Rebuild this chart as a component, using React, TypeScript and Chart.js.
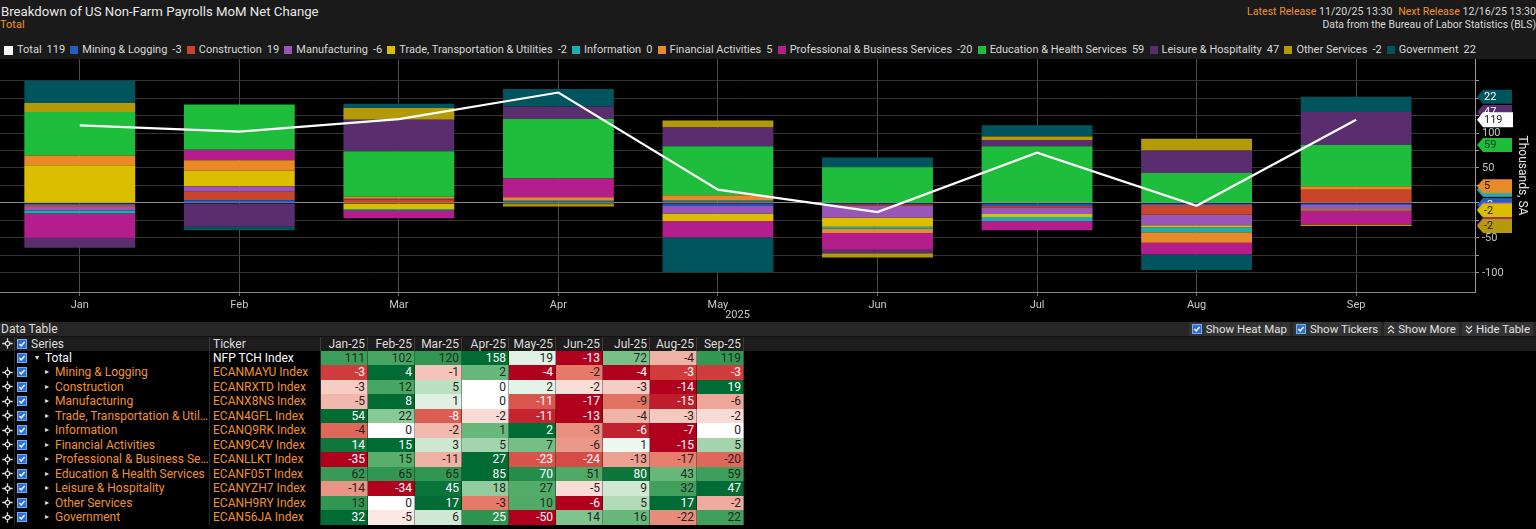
import React, { useEffect, useRef } from 'react';
import { Chart, registerables } from 'chart.js';
Chart.register(...registerables);
Chart.defaults.font.family = 'Roboto, sans-serif';

// ---------- text ----------
const chartTitle = 'Breakdown of US Non-Farm Payrolls MoM Net Change';
const chartSubtitle = 'Total';
const latestRelease = '11/20/25 13:30';
const nextRelease = '12/16/25 13:30';
const sourceNote = 'Data from the Bureau of Labor Statistics (BLS)';
const axisTitle = 'Thousands, SA';
const yearLabel = '2025';
const buttons = ['Show Heat Map', 'Show Tickers', 'Show More', 'Hide Table'];

// ---------- data ----------
const months = ['Jan', 'Feb', 'Mar', 'Apr', 'May', 'Jun', 'Jul', 'Aug', 'Sep'];
const monthColumns = ['Jan-25', 'Feb-25', 'Mar-25', 'Apr-25', 'May-25', 'Jun-25', 'Jul-25', 'Aug-25', 'Sep-25'];

const totalName = 'Total';
const totalTicker = 'NFP TCH Index';
const totalValues = [111, 102, 120, 158, 19, -13, 72, -4, 119];

const miningValues = [-3, 4, -1, 2, -4, -2, -4, -3, -3];
const constructionValues = [-3, 12, 5, 0, 2, -2, -3, -14, 19];
const manufacturingValues = [-5, 8, 1, 0, -11, -17, -9, -15, -6];
const tradeValues = [54, 22, -8, -2, -11, -13, -4, -3, -2];
const informationValues = [-4, 0, -2, 1, 2, -3, -6, -7, 0];
const financialValues = [14, 15, 3, 5, 7, -6, 1, -15, 5];
const professionalValues = [-35, 15, -11, 27, -23, -24, -13, -17, -20];
const educationValues = [62, 65, 65, 85, 70, 51, 80, 43, 59];
const leisureValues = [-14, -34, 45, 18, 27, -5, 9, 32, 47];
const otherValues = [13, 0, 17, -3, 10, -6, 5, 17, -2];
const governmentValues = [32, -5, 6, 25, -50, 14, 16, -22, 22];

const seriesNames = [
  'Mining & Logging', 'Construction', 'Manufacturing', 'Trade, Transportation & Utilities',
  'Information', 'Financial Activities', 'Professional & Business Services',
  'Education & Health Services', 'Leisure & Hospitality', 'Other Services', 'Government',
];
const seriesTickers = [
  'ECANMAYU Index', 'ECANRXTD Index', 'ECANX8NS Index', 'ECAN4GFL Index', 'ECANQ9RK Index',
  'ECAN9C4V Index', 'ECANLLKT Index', 'ECANF05T Index', 'ECANYZH7 Index', 'ECANH9RY Index', 'ECAN56JA Index',
];
const seriesValues = [
  miningValues, constructionValues, manufacturingValues, tradeValues, informationValues,
  financialValues, professionalValues, educationValues, leisureValues, otherValues, governmentValues,
];

// ---------- styles ----------
const seriesColors = [
  '#1d5fc4', '#c8442a', '#9a55b8', '#dcbe00', '#18b0b4', '#e88a28',
  '#b41e8c', '#1ebe3c', '#5a2e6e', '#b49a0a', '#00545e',
];
const tagTextColors = [
  '#ffffff', '#ffffff', '#ffffff', '#1a1a1a', '#1a1a1a', '#1a1a1a',
  '#ffffff', '#0b3d14', '#ffffff', '#1a1a1a', '#ffffff',
];
const ORANGE = '#f0922e';
const TEXT = '#d8d8d8';

const greenStops: [number, number[]][] = [[0, [255, 255, 255]], [0.25, [192, 226, 198]], [0.55, [88, 176, 108]], [0.8, [42, 146, 78]], [1, [0, 107, 51]]];
const redStops: [number, number[]][] = [[0, [255, 255, 255]], [0.25, [244, 196, 186]], [0.5, [228, 122, 104]], [0.75, [208, 60, 60]], [1, [176, 0, 30]]];

function interp(stops: [number, number[]][], t: number) {
  for (let i = 1; i < stops.length; i++) {
    if (t <= stops[i][0]) {
      const [t0, c0] = stops[i - 1];
      const [t1, c1] = stops[i];
      const f = (t - t0) / (t1 - t0);
      const c = c0.map((v, k) => Math.round(v + (c1[k] - v) * f));
      return `rgb(${c[0]},${c[1]},${c[2]})`;
    }
  }
  const c = stops[stops.length - 1][1];
  return `rgb(${c[0]},${c[1]},${c[2]})`;
}

function heat(v: number, row: number[]) {
  const maxPos = Math.max(...row, 0);
  const minNeg = Math.min(...row, 0);
  if (v > 0) {
    const t = v / maxPos;
    return { bg: interp(greenStops, t), fg: t >= 0.77 ? '#ffffff' : '#1e2a1e' };
  }
  if (v < 0) {
    const t = v / minNeg;
    return { bg: interp(redStops, t), fg: t >= 0.6 ? '#ffffff' : '#2a1e1e' };
  }
  return { bg: '#ffffff', fg: '#222222' };
}

const COL_ICON = 15;
const COL_CHECK = 14;
const COL_SERIES = 181;
const COL_TICKER = 111;
const COL_MONTH = 47;
const ROW_H = 14.5;

function CheckBox() {
  return (
    <svg width="10" height="10" viewBox="0 0 10 10" style={{ display: 'block' }}>
      <rect x="0.5" y="0.5" width="9" height="9" fill="#2a6fd4" stroke="#7aaaf0" strokeWidth="1" />
      <polyline points="2.4,5 4.2,6.9 7.6,3" fill="none" stroke="#ffffff" strokeWidth="1.4" />
    </svg>
  );
}

function CrossIcon() {
  return (
    <svg width="11" height="11" viewBox="0 0 11 11" style={{ display: 'block' }}>
      <circle cx="5.5" cy="5.5" r="2.2" fill="none" stroke="#e0e0e0" strokeWidth="1.2" />
      <path d="M5.5 0.3V3.2M5.5 7.8V10.7M0.3 5.5H3.2M7.8 5.5H10.7" stroke="#e0e0e0" strokeWidth="1.3" />
    </svg>
  );
}

function Chevrons({ up }: { up: boolean }) {
  const p1 = up ? '1,5 4,2 7,5' : '1,2 4,5 7,2';
  const p2 = up ? '1,9 4,6 7,9' : '1,6 4,9 7,6';
  return (
    <svg width="8" height="11" viewBox="0 0 8 11" style={{ display: 'block', marginRight: 3 }}>
      <polyline points={p1} fill="none" stroke="#dddddd" strokeWidth="1.2" />
      <polyline points={p2} fill="none" stroke="#dddddd" strokeWidth="1.2" />
    </svg>
  );
}

function cellBase(width: number): React.CSSProperties {
  return { width, flex: `0 0 ${width}px`, height: '100%', boxSizing: 'border-box', overflow: 'hidden', whiteSpace: 'nowrap' };
}

function DataRow({ name, ticker, values, isTotal }: { name: string; ticker: string; values: number[]; isTotal: boolean }) {
  return (
    <div style={{ display: 'flex', height: ROW_H, lineHeight: `${ROW_H}px`, fontSize: 12 }}>
      <div style={{ ...cellBase(COL_ICON), display: 'flex', alignItems: 'center', justifyContent: 'center', borderRight: '1px solid #2a2a2a' }}>
        {isTotal ? null : <CrossIcon />}
      </div>
      <div style={{ ...cellBase(COL_CHECK), display: 'flex', alignItems: 'center', paddingLeft: 2 }}>
        <CheckBox />
      </div>
      <div style={{ ...cellBase(COL_SERIES), paddingLeft: isTotal ? 6 : 16, color: isTotal ? '#ffffff' : ORANGE, textOverflow: 'ellipsis', borderRight: '1px solid #2a2a2a' }}>
        <span style={{ color: '#dddddd', fontSize: 8, display: 'inline-block', width: 10, verticalAlign: 'top' }}>{isTotal ? '\u25BE' : '\u25B8'}</span>
        {name}
      </div>
      <div style={{ ...cellBase(COL_TICKER), paddingLeft: 3, color: isTotal ? '#ffffff' : ORANGE, borderRight: '1px solid #2a2a2a' }}>{ticker}</div>
      {values.map((v, i) => {
        const h = heat(v, values);
        return (
          <div key={i} style={{ ...cellBase(COL_MONTH), background: h.bg, color: h.fg, textAlign: 'right', paddingRight: 2, borderRight: '1px solid rgba(0,0,0,0.35)' }}>
            {v}
          </div>
        );
      })}
    </div>
  );
}

export default function App() {
  const ref = useRef<HTMLCanvasElement>(null);

  useEffect(() => {
    const last = months.length - 1;
    const fmt = (v: number) => String(v);
    const tagPlugin = {
      id: 'lastValueTags',
      afterDraw(chart: any) {
        const ctx = chart.ctx as CanvasRenderingContext2D;
        const x0 = chart.chartArea.right;
        const yScale = chart.scales.y;
        const drawTag = (y: number, text: string, bg: string, fg: string, wide: boolean) => {
          const h = wide ? 15 : 14;
          const right = x0 + (wide ? 38 : 37);
          ctx.save();
          ctx.beginPath();
          ctx.moveTo(x0 + 2, y);
          ctx.lineTo(x0 + 8, y - h / 2);
          ctx.lineTo(right, y - h / 2);
          ctx.lineTo(right, y + h / 2);
          ctx.lineTo(x0 + 8, y + h / 2);
          ctx.closePath();
          ctx.fillStyle = bg;
          ctx.fill();
          ctx.fillStyle = fg;
          ctx.font = '11px Roboto, sans-serif';
          ctx.textAlign = 'left';
          ctx.textBaseline = 'middle';
          ctx.fillText(text, x0 + 9, y + 0.5);
          ctx.restore();
        };
        let pos = 0;
        let neg = 0;
        seriesNames.forEach((_, k) => {
          const v = seriesValues[k][last];
          let end;
          if (v >= 0) { pos += v; end = pos; } else { neg += v; end = neg; }
          drawTag(yScale.getPixelForValue(end), fmt(v), seriesColors[k], tagTextColors[k], false);
        });
        const tot = chart.getDatasetMeta(0).data[last];
        if (tot) drawTag(tot.y, fmt(totalValues[last]), '#ffffff', '#222222', true);
      },
    };

    const chart = new Chart(ref.current as HTMLCanvasElement, {
      type: 'bar',
      data: {
        datasets: [
          {
            type: 'line',
            label: totalName,
            data: totalValues.map((v, i) => ({ x: i, y: v })),
            borderColor: '#ffffff',
            borderWidth: 2.2,
            pointRadius: 0,
            tension: 0,
            fill: false,
            stack: 'total',
            order: 0,
          } as any,
          ...seriesNames.map((n, k) => ({
            type: 'bar',
            label: n,
            data: seriesValues[k].map((v, i) => ({ x: i, y: v })),
            backgroundColor: seriesColors[k],
            borderWidth: 0,
            categoryPercentage: 1,
            barPercentage: 0.695,
            order: 1,
          } as any)),
        ],
      },
      options: {
        responsive: false,
        animation: false,
        layout: { padding: 0 },
        plugins: { legend: { display: false }, tooltip: { enabled: false }, title: { display: false } },
        scales: {
          x: {
            type: 'linear',
            min: -0.5,
            max: 8.745,
            offset: false,
            stacked: true,
            afterBuildTicks: (s: any) => { s.ticks = months.map((_, i) => ({ value: i })); },
            ticks: {
              color: '#c8c8c8', font: { size: 11 }, padding: 3, autoSkip: false, maxRotation: 0,
              callback: (v: any) => months[v] ?? '',
            },
            grid: { color: '#4a4a4a', offset: false, tickLength: 4, tickColor: '#6a6a6a' },
            border: { color: '#8a8a8a' },
            title: { display: true, text: yearLabel, color: '#c8c8c8', font: { size: 11 }, padding: { top: 0, bottom: 0 } },
            afterFit: (s: any) => { s.height = 30; s.paddingLeft = 0; s.paddingRight = 0; },
          } as any,
          y: {
            type: 'linear',
            position: 'right',
            stacked: true,
            min: -127.5,
            max: 206,
            afterBuildTicks: (s: any) => { s.ticks = s.ticks.filter((t: any) => t.value % 25 === 0); },
            ticks: {
              stepSize: 25, color: '#c4c4c4', font: { size: 11 }, padding: 3,
              callback: (v: any) => (v % 50 === 0 ? String(v) : ''),
            },
            grid: {
              color: (c: any) => (c.tick && c.tick.value === 0 ? '#8c8c8c' : '#333333'),
              tickColor: '#9a9a9a', tickLength: 4,
            },
            border: { color: '#9a9a9a' },
            title: { display: true, text: axisTitle, color: '#e6e6e6', font: { size: 12 }, padding: { top: 7, bottom: 0 } },
            afterFit: (s: any) => { s.width = 61; s.paddingTop = 0; s.paddingBottom = 0; },
          } as any,
        },
      },
      plugins: [tagPlugin],
    });
    return () => chart.destroy();
  }, []);

  const legendItems = [
    { name: totalName, value: totalValues[totalValues.length - 1], color: '#ffffff', size: 9 },
    ...seriesNames.map((n, k) => ({ name: n, value: seriesValues[k][seriesValues[k].length - 1], color: seriesColors[k], size: 8 })),
  ];

  return (
    <div style={{ width: 1536, height: 529, background: '#000', fontFamily: 'Roboto, sans-serif', position: 'relative', overflow: 'hidden' }}>
      <style>{'html,body{margin:0;padding:0;background:#000;overflow:hidden}'}</style>
      {/* header */}
      <div style={{ position: 'relative', height: 59, background: '#1a1a1a' }}>
        <div style={{ position: 'absolute', left: 1, top: 3, fontSize: 13.2, lineHeight: '17px', color: '#e8e8e8' }}>{chartTitle}</div>
        <div style={{ position: 'absolute', left: 0, top: 18, fontSize: 11, lineHeight: '14px', color: ORANGE }}>{chartSubtitle}</div>
        <div style={{ position: 'absolute', right: 0, top: 5, fontSize: 10.6, lineHeight: '14px', color: TEXT, whiteSpace: 'nowrap' }}>
          <span style={{ color: ORANGE }}>Latest Release</span> {latestRelease}{'  '}
          <span style={{ color: ORANGE, marginLeft: 3 }}>Next Release</span> {nextRelease}
        </div>
        <div style={{ position: 'absolute', right: 0, top: 18, fontSize: 10.4, lineHeight: '14px', color: TEXT, whiteSpace: 'nowrap' }}>{sourceNote}</div>
        <div style={{ position: 'absolute', left: 4, top: 43, width: 1472, display: 'flex', justifyContent: 'space-between', fontSize: 11, lineHeight: '14px', color: TEXT, whiteSpace: 'nowrap' }}>
          {legendItems.map((it, i) => (
            <div key={i} style={{ display: 'flex', alignItems: 'center' }}>
              <span style={{ display: 'inline-block', width: it.size, height: it.size, background: it.color, marginRight: 4 }} />
              <span>{it.name}</span>
              <span style={{ marginLeft: 5 }}>{it.value}</span>
            </div>
          ))}
        </div>
      </div>
      {/* chart */}
      <div style={{ height: 263, background: '#000' }}>
        <canvas ref={ref} width={1536} height={263} style={{ display: 'block', width: 1536, height: 263 }} />
      </div>
      {/* data table */}
      <div style={{ height: 14, background: '#262626', display: 'flex', alignItems: 'center', fontSize: 12, color: '#dddddd', position: 'relative' }}>
        <span style={{ paddingLeft: 1 }}>Data Table</span>
        <div style={{ position: 'absolute', right: 3, top: 0, height: 14, display: 'flex', gap: 3 }}>
          {buttons.map((b, i) => (
            <div key={i} style={{ display: 'flex', alignItems: 'center', background: '#333333', padding: '0 3px', height: 14, fontSize: 11.5, color: '#e2e2e2' }}>
              {i < 2 ? <span style={{ marginRight: 4 }}><CheckBox /></span> : <Chevrons up={i === 2} />}
              {b}
            </div>
          ))}
        </div>
      </div>
      <div style={{ display: 'flex', height: 14.5, lineHeight: '14.5px', background: '#1c1c1c', fontSize: 12, color: '#dddddd', borderTop: '1px solid #111', boxSizing: 'border-box' }}>
        <div style={{ ...cellBase(COL_ICON), display: 'flex', alignItems: 'center', justifyContent: 'center', borderRight: '1px solid #3a3a3a' }}><CrossIcon /></div>
        <div style={{ ...cellBase(COL_CHECK), display: 'flex', alignItems: 'center', paddingLeft: 2 }}><CheckBox /></div>
        <div style={{ ...cellBase(COL_SERIES), paddingLeft: 2, borderRight: '1px solid #3a3a3a' }}>Series</div>
        <div style={{ ...cellBase(COL_TICKER), paddingLeft: 3, borderRight: '1px solid #3a3a3a' }}>Ticker</div>
        {monthColumns.map((m, i) => (
          <div key={i} style={{ ...cellBase(COL_MONTH), textAlign: 'right', paddingRight: 2, borderRight: '1px solid #3a3a3a' }}>{m}</div>
        ))}
      </div>
      <DataRow name={totalName} ticker={totalTicker} values={totalValues} isTotal={true} />
      {seriesNames.map((n, k) => (
        <DataRow key={k} name={n} ticker={seriesTickers[k]} values={seriesValues[k]} isTotal={false} />
      ))}
    </div>
  );
}
